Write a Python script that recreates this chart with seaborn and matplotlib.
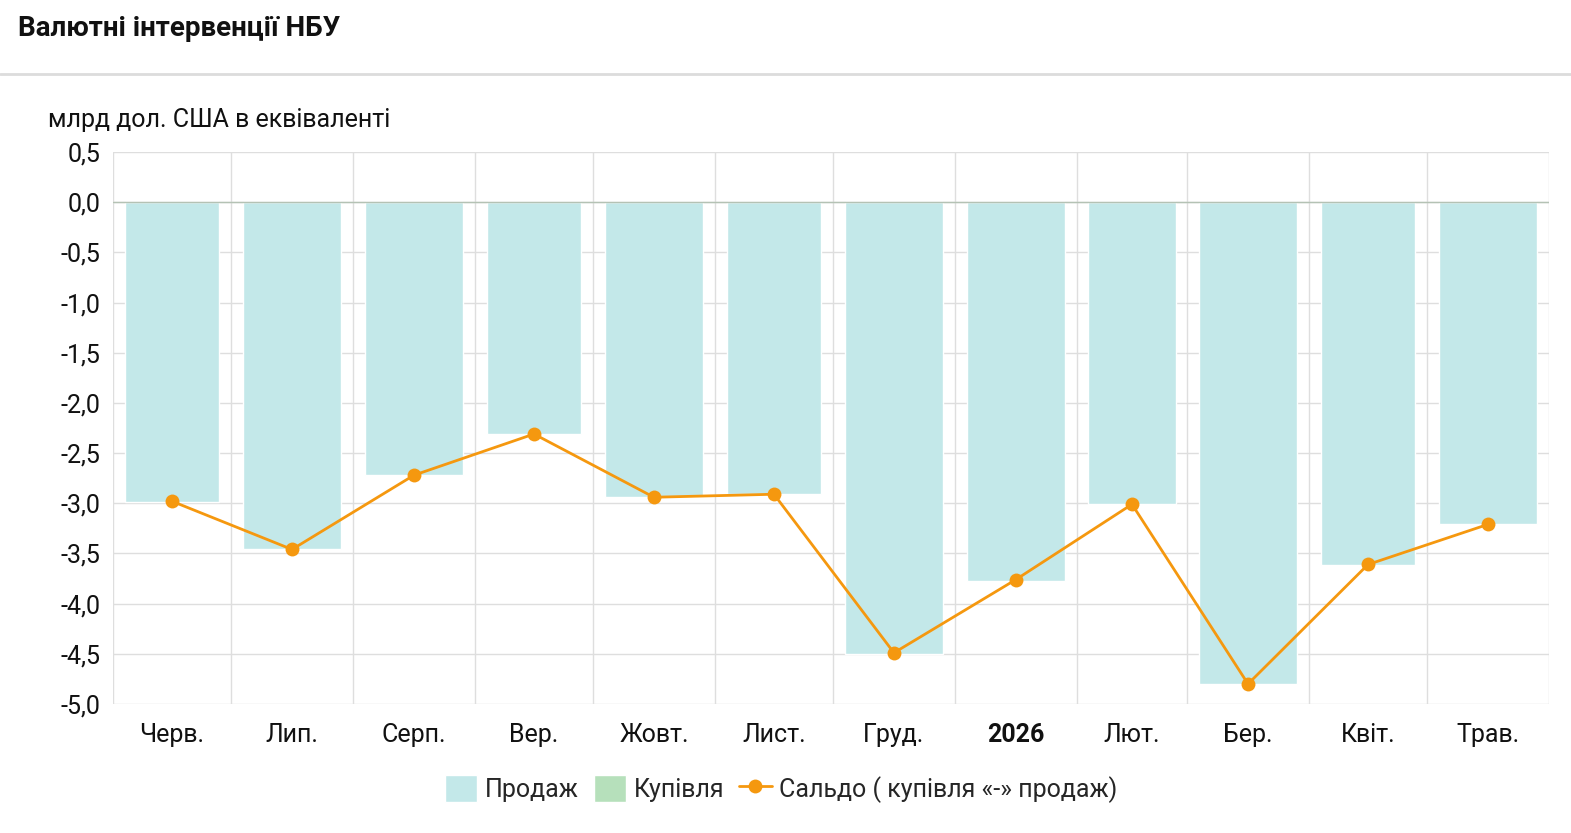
"""Валютні інтервенції НБУ: monthly sales bars with net balance line."""

import matplotlib.pyplot as plt
import numpy as np
import pandas as pd
import seaborn as sns
from matplotlib.lines import Line2D
from matplotlib.patches import Patch
from matplotlib.ticker import FixedLocator, FuncFormatter

# --- data ---
month_labels = ["Черв.", "Лип.", "Серп.", "Вер.", "Жовт.", "Лист.",
                "Груд.", "2026", "Лют.", "Бер.", "Квіт.", "Трав."]
sales = [-2.99, -3.46, -2.72, -2.31, -2.94, -2.91,
         -4.50, -3.77, -3.01, -4.80, -3.62, -3.21]
purchases = [0.0, 0.0, 0.0, 0.0, 0.0, 0.0,
             0.0, 0.0, 0.0, 0.0, 0.0, 0.0]
saldo = [-2.98, -3.46, -2.72, -2.31, -2.94, -2.91,
         -4.49, -3.76, -3.01, -4.80, -3.61, -3.21]
y_ticks = [0.5, 0.0, -0.5, -1.0, -1.5, -2.0, -2.5, -3.0, -3.5, -4.0, -4.5, -5.0]

SALES_COLOR = "#c3e8e9"
PURCH_COLOR = "#b6e0bb"
LINE_COLOR = "#f5980f"
GRID_COLOR = "#dedede"
FS = 18

sns.set_theme(style="white")
plt.rcParams["font.family"] = ["Roboto", "DejaVu Sans"]

# month boundaries on a day axis (calendar months, June 2025 .. May 2026)
bounds = pd.date_range("2025-06-01", "2026-06-01", freq="MS")
edges = np.asarray((bounds - bounds[0]).days, dtype=float)
lengths = np.diff(edges)
centers = edges[:-1] + lengths / 2

df = pd.DataFrame({"x": centers, "sales": sales, "purchases": purchases, "saldo": saldo})

fig = plt.figure(figsize=(15.71, 8.33), dpi=100)
ax = fig.add_axes([113 / 1571, 129 / 833, 1436 / 1571, 552 / 833])

ax.bar(df["x"], df["sales"], width=lengths * 0.8, color=SALES_COLOR, zorder=2)
ax.bar(df["x"], df["purchases"], width=lengths * 0.8, color=PURCH_COLOR, zorder=2)
sns.lineplot(data=df, x="x", y="saldo", ax=ax, color=LINE_COLOR, linewidth=2,
             marker="o", markersize=10, markeredgewidth=0, zorder=4)

ax.set_xlim(edges[0], edges[-1])
ax.set_ylim(-5.0, 0.5)

ax.xaxis.set_major_locator(FixedLocator(centers))
ax.set_xticklabels(month_labels)
ax.xaxis.set_minor_locator(FixedLocator(edges))
ax.yaxis.set_major_locator(FixedLocator(y_ticks))
ax.yaxis.set_major_formatter(FuncFormatter(lambda v, _: f"{v:.1f}".replace(".", ",")))

ax.grid(False)
ax.grid(which="minor", axis="x", color=GRID_COLOR, linewidth=1, zorder=0)
ax.grid(which="major", axis="y", color=GRID_COLOR, linewidth=1, zorder=0)
ax.axhline(0, color="#b4c2b4", linewidth=1, zorder=3)
for s in ax.spines.values():
    s.set_visible(False)

ax.tick_params(axis="both", which="both", length=0, labelsize=FS, colors="#111111")
ax.tick_params(axis="x", pad=14)
ax.tick_params(axis="y", pad=9)
ax.set_xlabel("")
ax.set_ylabel("")
for lbl in ax.get_xticklabels():
    if lbl.get_text() == "2026":
        lbl.set_fontweight("bold")

# header
fig.text(18 / 1571, 1 - 28 / 833, "Валютні інтервенції НБУ", fontsize=20,
         fontweight="bold", va="center", ha="left", color="#111111")
fig.add_artist(Line2D([0, 1], [1 - 74 / 833, 1 - 74 / 833], transform=fig.transFigure,
                      color="#dcdcdc", linewidth=2))
fig.text(48 / 1571, 1 - 120 / 833, "млрд дол. США в еквіваленті", fontsize=FS,
         va="center", ha="left", color="#111111")

handles = [
    Patch(facecolor=SALES_COLOR, label="Продаж"),
    Patch(facecolor=PURCH_COLOR, label="Купівля"),
    Line2D([0], [0], color=LINE_COLOR, linewidth=2, marker="o", markersize=10,
           markeredgewidth=0, label="Сальдо ( купівля «-» продаж)"),
]
fig.legend(handles=handles, loc="center", bbox_to_anchor=(781 / 1571, 1 - 789 / 833),
           ncol=3, frameon=False, fontsize=FS, handlelength=1.3, handleheight=1.3,
           columnspacing=0.6, handletextpad=0.3)

fig.savefig("out.png", dpi=100)
plt.close(fig)
